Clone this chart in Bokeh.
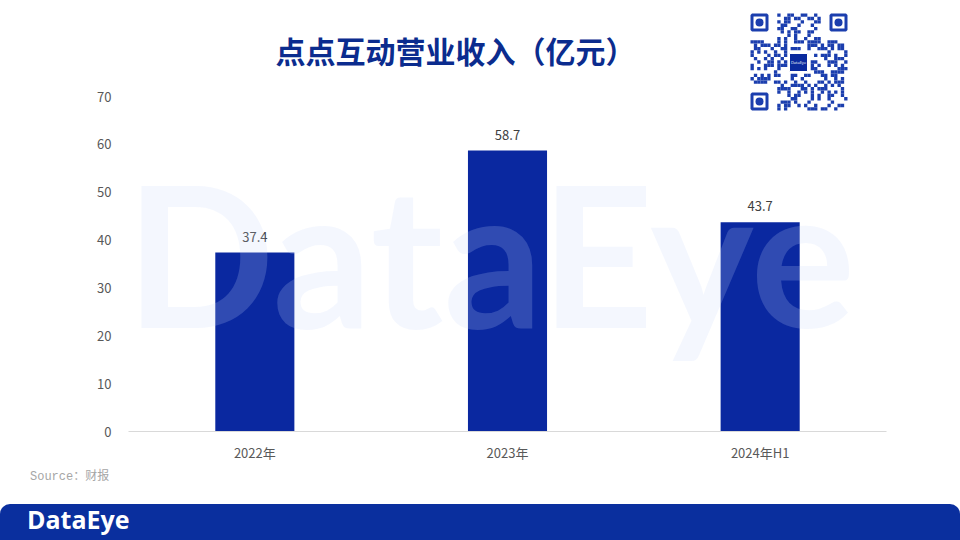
from bokeh.plotting import figure
from bokeh.models import ColumnDataSource, Range1d, FactorRange, FixedTicker, Div
from bokeh.layouts import column
from bokeh.core.properties import value
from bokeh.embed import file_html
from bokeh.resources import INLINE

# ---------------- data ----------------
categories = ["2022年", "2023年", "2024年H1"]
revenue = [37.4, 58.7, 43.7]
value_labels = ["37.4", "58.7", "43.7"]
y_ticks = [0, 10, 20, 30, 40, 50, 60, 70]

title_text = "点点互动营业收入（亿元）"
source_text = "Source：财报"
brand = "DataEye"

# ---------------- style ----------------
FONT = "Noto Sans CJK SC"
BAR = "#0A28A0"
TITLE_C = "#0B2C8E"
BAND = "#0A2F9E"
QR_C = "#1B3EAE"
TICK_C = "#595959"

W = 960
MAIN_H = 468
FOOT_H = 72
# page-pixel geometry of the plotting frame
FL, FR, FT, FB = 128, 886, 0, 431
Y70 = 96
ymax = 70 * (FB - FT) / (FB - Y70)
X0, X1 = 0.0, float(len(categories))


def PX(px):
    return X0 + (px - FL) / (FR - FL) * (X1 - X0)


def PY(py):
    return (FB - py) / (FB - FT) * ymax


def PXs(v):
    return [PX(a) for a in v]


def PYs(v):
    return [PY(a) for a in v]


def label(fig, x, y, txt, **kw):
    s = ColumnDataSource(dict(x=[x], y=[y], t=[txt]))
    return fig.text(x="x", y="y", text="t", source=s, **kw)


p = figure(width=W, height=MAIN_H,
           x_range=FactorRange(*categories), y_range=Range1d(0, ymax),
           output_backend="svg", toolbar_location=None,
           min_border_left=FL, min_border_right=W - FR,
           min_border_top=0, min_border_bottom=MAIN_H - FB)
p.outline_line_color = None
p.grid.visible = False
p.background_fill_color = "white"
p.border_fill_color = "white"

src = ColumnDataSource(dict(cat=categories, val=revenue, lab=value_labels))
p.vbar(x="cat", top="val", width=0.313, source=src, fill_color=BAR, line_color=None)
p.text(x="cat", y="val", text="lab", source=src, y_offset=-16,
       text_align="center", text_baseline="middle",
       text_font=value(FONT), text_font_size="13px", text_color="#404040")

# watermark
label(p, PX(490), PY(252), brand,
      text_font=value("Lato"), text_font_style="bold", text_font_size="196px",
      text_color="#C9D8FA", text_alpha=0.2, text_align="center", text_baseline="middle")

# title
label(p, PX(455), PY(49), title_text,
      text_font=value(FONT), text_font_style="bold", text_font_size="30px",
      text_color=TITLE_C, text_align="center", text_baseline="middle")

# QR-code style decoration
qx0, qy0, qs = 750, 13, 97
n = 29
m = qs / n
ml, mr, mt, mb = [], [], [], []
for i in range(n):
    for j in range(n):
        if (i < 8 and j < 8) or (i < 8 and j >= n - 8) or (i >= n - 8 and j < 8):
            continue
        if 11 <= i <= 17 and 11 <= j <= 17:
            continue
        if ((i * 73856093) ^ (j * 19349663) ^ (i * j * 83492791)) % 11 < 5:
            ml.append(qx0 + j * m); mr.append(qx0 + (j + 1) * m)
            mt.append(qy0 + i * m); mb.append(qy0 + (i + 1) * m)
p.quad(left=PXs(ml), right=PXs(mr), top=PYs(mt), bottom=PYs(mb),
       fill_color=QR_C, line_color=None)
fs = 18
fx = [qx0, qx0 + qs - fs, qx0]
fy = [qy0, qy0, qy0 + qs - fs]
p.quad(left=PXs([x + 1.5 for x in fx]), right=PXs([x + fs - 1.5 for x in fx]),
       top=PYs([y + 1.5 for y in fy]), bottom=PYs([y + fs - 1.5 for y in fy]),
       fill_alpha=0, line_color=QR_C, line_width=3)
p.scatter(x=PXs([x + fs / 2 for x in fx]), y=PYs([y + fs / 2 for y in fy]), size=8,
          fill_color=QR_C, line_color=None)
p.quad(left=[PX(789)], right=[PX(807)], top=[PY(53)], bottom=[PY(71)],
       fill_color="#0A2A9E", line_color="white", line_width=1)
label(p, PX(798), PY(62), brand,
      text_font=value("Open Sans"), text_font_size="4px", text_color="white",
      text_align="center", text_baseline="middle")

# axes
p.yaxis.ticker = FixedTicker(ticks=y_ticks)
p.yaxis.axis_line_color = None
p.yaxis.major_tick_line_color = None
p.yaxis.minor_tick_line_color = None
p.yaxis.major_label_standoff = 11
p.yaxis.major_label_text_font = FONT
p.yaxis.major_label_text_font_size = "13px"
p.yaxis.major_label_text_color = TICK_C

p.xaxis.axis_line_color = "#D9D9D9"
p.xaxis.axis_line_width = 1
p.xaxis.major_tick_line_color = None
p.xaxis.minor_tick_line_color = None
p.xaxis.major_tick_out = 0
p.xaxis.major_label_standoff = 11
p.xaxis.major_label_text_font = FONT
p.xaxis.major_label_text_font_size = "13px"
p.xaxis.major_label_text_color = TICK_C

# footer (source note + brand band)
footer_html = (
    '<div style="position:relative;width:960px;height:72px;margin:0;padding:0;">'
    '<div style="position:absolute;left:30px;top:1px;height:16px;line-height:16px;'
    'font-family:\'Liberation Mono\',\'Noto Sans CJK SC\',monospace;font-size:12px;color:#A6A6A6;">'
    + source_text + '</div>'
    '<div style="position:absolute;left:0px;top:36px;width:960px;height:36px;'
    'background:' + BAND + ';border-radius:10px 10px 0 0;"></div>'
    '<div style="position:absolute;left:27px;top:35px;height:32px;line-height:32px;'
    'font-family:\'Open Sans\',sans-serif;font-weight:bold;font-size:25px;color:white;">'
    + brand + '</div>'
    '</div>'
)
f = Div(text=footer_html, width=W, height=FOOT_H, margin=(0, 0, 0, 0))

layout = column(p, f, spacing=0)
open("out.html", "w").write(file_html(layout, INLINE))
